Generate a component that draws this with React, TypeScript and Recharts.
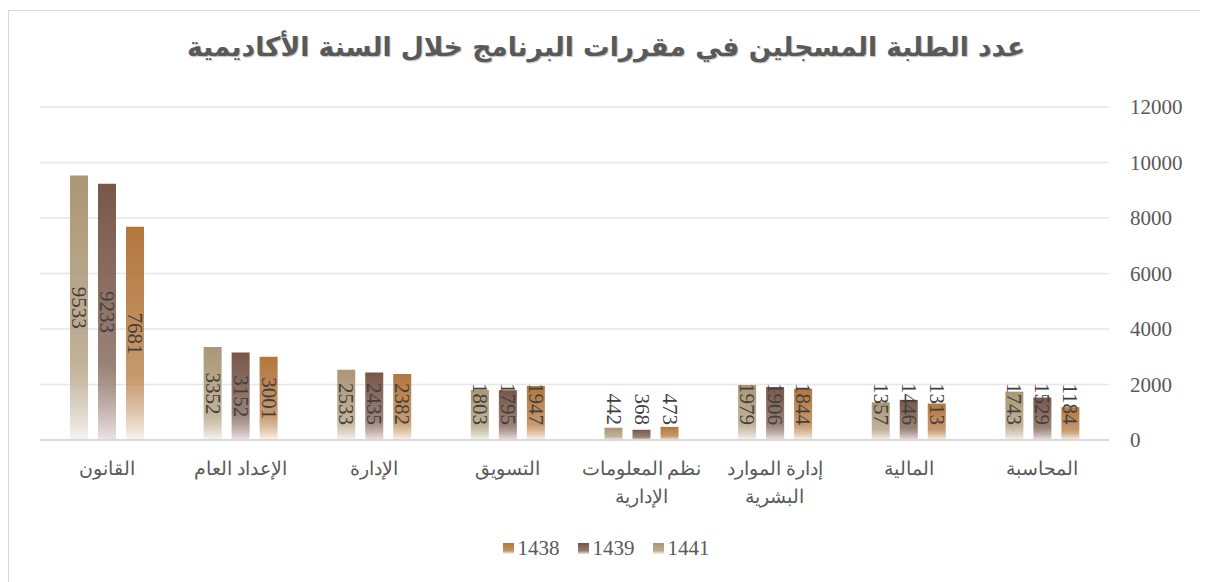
import React from "react";
import { BarChart, Bar, XAxis, YAxis, CartesianGrid, Legend, LabelList } from "recharts";

// categories (right to left in the original, axis is reversed)
const categories = [
  "المحاسبة",
  "المالية",
  "إدارة الموارد\nالبشرية",
  "نظم المعلومات\nالإدارية",
  "التسويق",
  "الإدارة",
  "الإعداد العام",
  "القانون",
];

const values1441 = [1743, 1357, 1979, 442, 1803, 2533, 3352, 9533];
const values1439 = [1529, 1446, 1906, 368, 1795, 2435, 3152, 9233];
const values1438 = [1184, 1313, 1844, 473, 1947, 2382, 3001, 7681];

const yTicks = [0, 2000, 4000, 6000, 8000, 10000, 12000];

const series = [
  { key: "y1441", name: "1441", color: "#ab9775", fade: "#f6f4f1" },
  { key: "y1439", name: "1439", color: "#785749", fade: "#ece4e4" },
  { key: "y1438", name: "1438", color: "#b3773d", fade: "#fbf5ef" },
];

const data = categories.map((name, i) => ({
  name,
  y1441: values1441[i],
  y1439: values1439[i],
  y1438: values1438[i],
}));

const serifFont = "'Liberation Serif', 'Times New Roman', serif";
const textColor = "#595959";

const CategoryTick = (props: any) => {
  const { x, y, payload } = props;
  const lines = String(payload.value).split("\n");
  return (
    <text x={x} y={y} textAnchor="middle" fill={textColor} fontSize={18.5} fontFamily={serifFont} direction="rtl">
      {lines.map((line, i) => (
        <tspan key={i} x={x} dy={i === 0 ? 35 : 28}>
          {line}
        </tspan>
      ))}
    </text>
  );
};

const ValueTick = (props: any) => {
  const { x, y, payload } = props;
  return (
    <text x={x} y={y} dy={7} textAnchor="start" fill={textColor} fontSize={21} fontFamily={serifFont}>
      {payload.value}
    </text>
  );
};

const BarValueLabel = (props: any) => {
  const { x, y, width, height, value } = props;
  const cx = x + width / 2;
  const len = String(value).length * 10.5;
  const bottom = y + height;
  const cy = Math.min(y + height / 2, bottom - 15 - len / 2);
  return (
    <text
      x={cx}
      y={cy}
      transform={`rotate(90, ${cx}, ${cy})`}
      textAnchor="middle"
      dominantBaseline="central"
      fill="#404040"
      fontSize={21}
      fontFamily={serifFont}
    >
      {value}
    </text>
  );
};

const LegendContent = () => {
  const order = [series[2], series[1], series[0]];
  return (
    <div style={{ display: "flex", justifyContent: "center", alignItems: "center", height: 30, direction: "ltr" }}>
      {order.map((s) => (
        <div key={s.key} style={{ display: "flex", alignItems: "center", margin: "0 9px" }}>
          <span
            style={{
              width: 11,
              height: 11,
              display: "inline-block",
              marginRight: 4,
              background: `linear-gradient(${s.color}, ${s.color}cc 70%, ${s.fade})`,
            }}
          />
          <span style={{ fontSize: 21, fontFamily: serifFont, color: textColor }}>{s.name}</span>
        </div>
      ))}
    </div>
  );
};

const App = () => {
  return (
    <div
      style={{
        position: "relative",
        marginTop: 2,
        width: 1196,
        height: 582,
        boxSizing: "border-box",
        border: "1px solid #d9d9d9",
        background: "#fff",
      }}
    >
      <div
        style={{
          position: "absolute",
          top: 20,
          left: 0,
          width: 1194,
          textAlign: "center",
          fontFamily: "'DejaVu Sans', sans-serif",
          fontWeight: "bold",
          fontSize: 26.5,
          color: "#595959",
          direction: "rtl",
          textShadow: "1px 1px 1px rgba(0,0,0,0.25)",
        }}
      >
        عدد الطلبة المسجلين في مقررات البرنامج خلال السنة الأكاديمية
      </div>
      <BarChart
        width={1194}
        height={570}
        data={data}
        margin={{ top: 96, right: 0, left: 31, bottom: 51 }}
        barSize={18}
        barGap={10}
      >
        <defs>
          {series.map((s) => (
            <linearGradient key={s.key} id={`grad-${s.key}`} x1="0" y1="0" x2="0" y2="1">
              <stop offset="0%" stopColor={s.color} stopOpacity={1} />
              <stop offset="70%" stopColor={s.color} stopOpacity={0.75} />
              <stop offset="100%" stopColor={s.fade} stopOpacity={1} />
            </linearGradient>
          ))}
        </defs>
        <CartesianGrid vertical={false} stroke="#e6e6e6" strokeWidth={1.5} />
        <XAxis
          dataKey="name"
          reversed
          interval={0}
          height={60}
          tickLine={false}
          tickSize={0}
          tickMargin={0}
          axisLine={{ stroke: "#d9d9d9", strokeWidth: 2 }}
          tick={<CategoryTick />}
        />
        <YAxis
          orientation="right"
          width={94}
          domain={[0, 12000]}
          ticks={yTicks}
          axisLine={false}
          tickLine={false}
          tickSize={0}
          tickMargin={21}
          tick={<ValueTick />}
        />
        <Legend
          content={<LegendContent />}
          wrapperStyle={{ top: 522, left: 0, width: 1194, height: 30 }}
        />
        {series.map((s) => (
          <Bar key={s.key} dataKey={s.key} name={s.name} fill={`url(#grad-${s.key})`} isAnimationActive={false}>
            <LabelList dataKey={s.key} content={<BarValueLabel />} />
          </Bar>
        ))}
      </BarChart>
    </div>
  );
};

export default App;
